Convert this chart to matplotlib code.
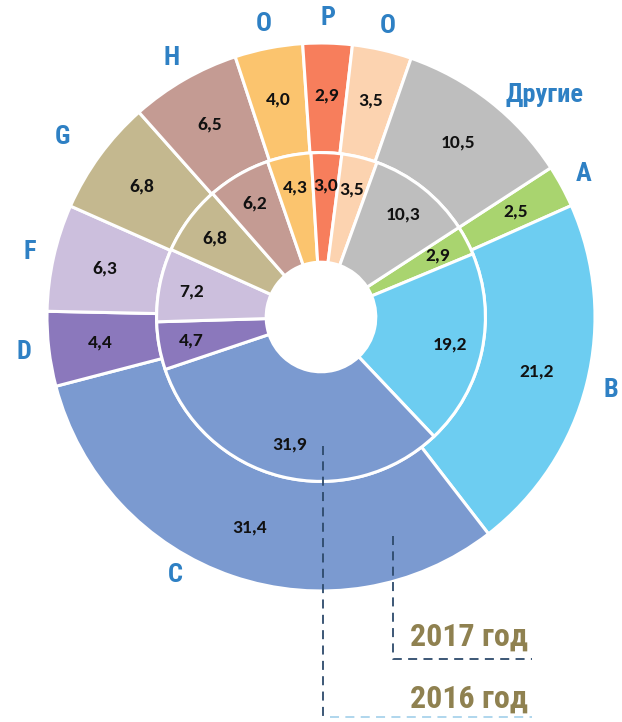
import numpy as np
import matplotlib.pyplot as plt

# outer ring = 2017, inner ring = 2016 (shares, %)
categories = ["A", "B", "C", "D", "F", "G", "H", "O", "P", "O", "Другие"]
values_2017 = [2.5, 21.2, 31.4, 4.4, 6.3, 6.8, 6.5, 4.0, 2.9, 3.5, 10.5]
values_2016 = [2.9, 19.2, 31.9, 4.7, 7.2, 6.8, 6.2, 4.3, 3.0, 3.5, 10.3]
colors = ["#a9d46f", "#6dcdf1", "#7b9ad0", "#8b78bc", "#ccbfdd", "#c4b88f",
          "#c49b93", "#fbc46e", "#f77e5c", "#fcd3b0", "#bebebe"]
years = ["2017 год", "2016 год"]

W, H = 622, 722
CX, CY, R = 321, 317, 274  # pie centre and radius in pixels
START = 33

LABEL_FONT = ["Roboto Condensed", "DejaVu Sans"]
VALUE_FONT = ["Carlito", "DejaVu Sans"]
LABEL_COLOR = "#2e80c4"
YEAR_COLOR = "#8f8150"


def fmt(v):
    return f"{v:.1f}".replace(".", ",")


def polar(angle, r):
    a = np.deg2rad(angle)
    return r * np.cos(a), r * np.sin(a)


def px(x, y):
    # pixel position (top-left origin) -> data units
    return (x - CX) / R, (CY - y) / R


fig = plt.figure(figsize=(W / 100, H / 100), dpi=100)
ax = fig.add_axes([0, 0, 1, 1])

wp = dict(width=0.4, edgecolor="white", linewidth=2.2)
outer, _ = ax.pie(values_2017, radius=1.0, startangle=START, counterclock=False,
                  colors=colors, wedgeprops=wp)
inner, _ = ax.pie(values_2016, radius=0.6, startangle=START, counterclock=False,
                  colors=colors, wedgeprops=wp)

ax.set_xlim(-CX / R, (W - CX) / R)
ax.set_ylim(-(H - CY) / R, CY / R)
ax.set_aspect("equal")
ax.axis("off")

# value labels
for w, v in zip(outer, values_2017):
    mid = (w.theta1 + w.theta2) / 2
    ax.text(*polar(mid, 0.81), fmt(v), ha="center", va="center",
            fontsize=14, fontweight="bold", family=VALUE_FONT, color="#111111")
for w, v in zip(inner, values_2016):
    mid = (w.theta1 + w.theta2) / 2
    ax.text(*polar(mid, 0.48), fmt(v), ha="center", va="center",
            fontsize=14, fontweight="bold", family=VALUE_FONT, color="#111111")

# category labels around the outside
label_shift = {2: (-10.6, 1.08), 5: (1.3, 1.15), 10: (-7.0, 1.15)}
for i, (w, name) in enumerate(zip(outer, categories)):
    mid = (w.theta1 + w.theta2) / 2
    da, r = label_shift.get(i, (0.0, 1.09))
    ax.text(*polar(mid + da, r), name, ha="center", va="center",
            fontsize=19, fontweight="bold", family=LABEL_FONT, color=LABEL_COLOR)

# leader lines to the year captions
dash = dict(linestyle=(0, (5, 3.5)), linewidth=1.3)
x17, y17a, y17b, x_end = px(393, 536)[0], px(0, 536)[1], px(0, 659)[1], px(532, 0)[0]
ax.plot([x17, x17, x_end], [y17a, y17b, y17b], color="#2d4a6b", **dash)
x16, y16a, y16b = px(323, 446)[0], px(0, 446)[1], px(0, 717)[1]
ax.plot([x16, x16], [y16a, y16b], color="#2d4a6b", **dash)
ax.plot([px(330, 0)[0], x_end], [y16b, y16b], color="#a9d3ec", **dash)

for (x, y), t in zip([px(410, 637), px(410, 699)], years):
    ax.text(x, y, t, ha="left", va="center", fontsize=23, fontweight="bold",
            family=LABEL_FONT, color=YEAR_COLOR)

fig.savefig("out.png", dpi=100)
